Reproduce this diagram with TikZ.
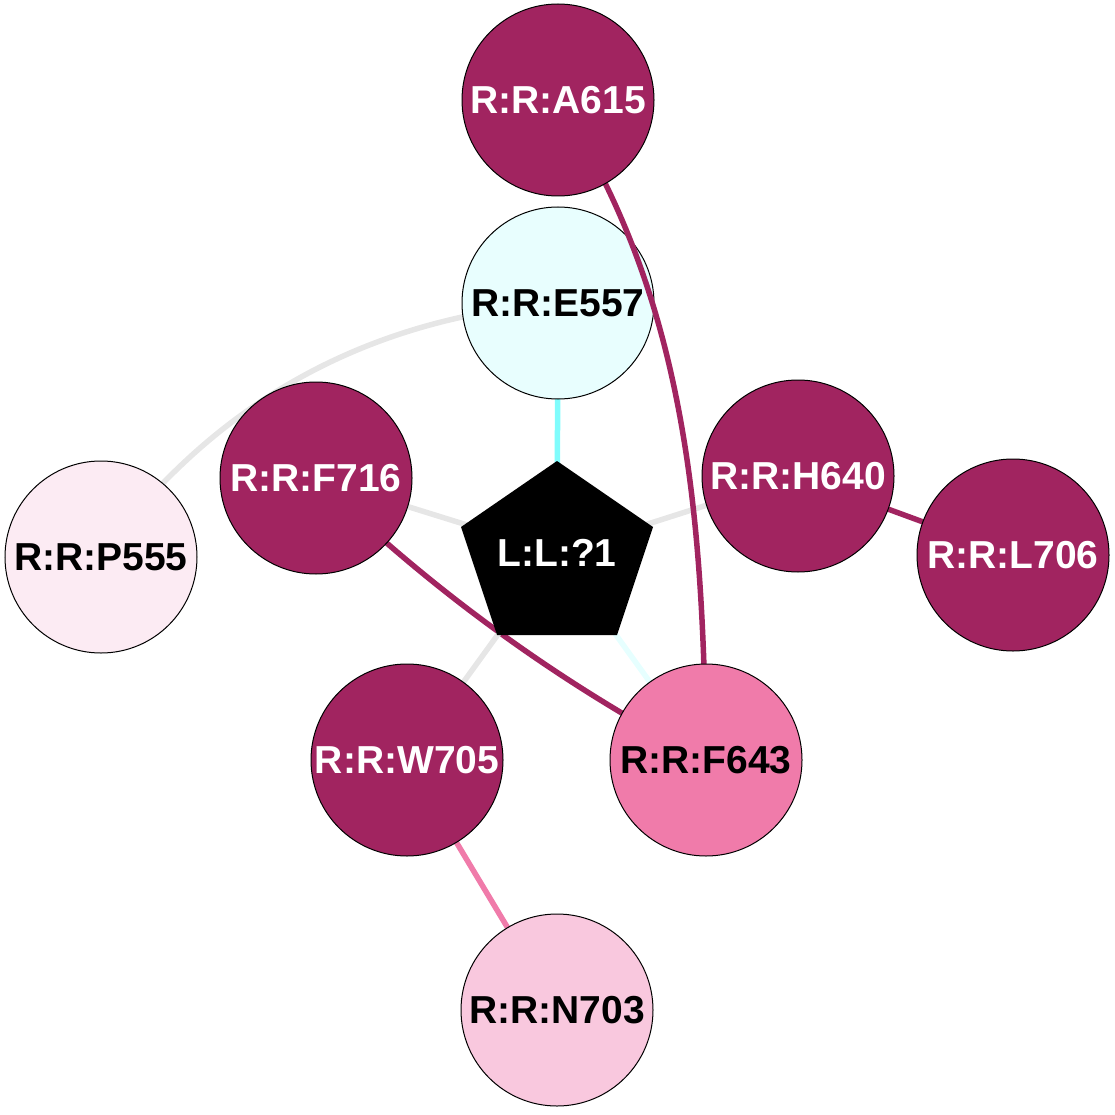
\documentclass[tikz,border=0pt]{standalone}
\usepackage{fontspec}
\setmainfont{Liberation Sans}
\pgfdeclarelayer{bg}
\pgfdeclarelayer{low}
\pgfdeclarelayer{mid}
\pgfsetlayers{bg,low,mid,main}
\definecolor{purp}{HTML}{A12460}
\definecolor{pinkA}{HTML}{F07BAA}
\definecolor{pinkB}{HTML}{F9C8DE}
\definecolor{pinkC}{HTML}{FCEBF3}
\definecolor{cyanA}{HTML}{E8FEFE}
\definecolor{cyanE}{HTML}{80FCFC}
\definecolor{cyanF}{HTML}{E6FFFF}
\definecolor{grayE}{HTML}{E6E6E6}
\tikzset{
  res/.style={circle, draw=black, line width=1pt, minimum size=192pt, inner sep=0pt,
    font=\fontsize{39}{39}\selectfont\bfseries},
  dark/.style={res, fill=purp, text=white},
  lig/.style={inner sep=0pt, text=white, font=\fontsize{39}{39}\selectfont\bfseries},
  edge/.style={line width=5.5pt},
}
\begin{document}
\begin{tikzpicture}[x=1pt,y=-1pt]
\useasboundingbox (0,0) rectangle (1115,1115);
\fill[black] (557,461) -- (653,527) -- (617,635) -- (497,635) -- (461,527) -- cycle;
\node[lig] (L) at (557,553) {L:L:?1};
\node[dark] (A615) at (558,100) {R:R:A615};
\begin{pgfonlayer}{low}
\node[res, fill=cyanA] (E557) at (558,303) {R:R:E557};
\end{pgfonlayer}
\node[dark] (F716) at (316,478) {R:R:F716};
\node[dark] (H640) at (798,476) {R:R:H640};
\node[dark] (L706) at (1013,555) {R:R:L706};
\node[res, fill=pinkC] (P555) at (101,557) {R:R:P555};
\node[dark] (W705) at (407,760) {R:R:W705};
\node[res, fill=pinkA] (F643) at (706,760) {R:R:F643};
\node[res, fill=pinkB] (N703) at (557,1010) {R:R:N703};
\begin{pgfonlayer}{mid}
\draw[edge, purp] (A615.center) .. controls (688,300) and (703,520) .. (F643.center);
\end{pgfonlayer}
\begin{pgfonlayer}{bg}
\draw[edge, grayE] (E557.center) .. controls (367,318) and (214,402) .. (P555.center);
\draw[edge, purp] (F716.center) .. controls (432,591) and (562,685) .. (F643.center);
\draw[edge, cyanE] (E557.center) -- (L.center);
\draw[edge, grayE] (F716.center) -- (L.center);
\draw[edge, grayE] (H640.center) -- (L.center);
\draw[edge, grayE] (W705.center) -- (L.center);
\draw[edge, cyanF] (F643.center) -- (L.center);
\draw[edge, purp] (H640.center) -- (L706.center);
\draw[edge, pinkA] (W705.center) -- (N703.center);
\end{pgfonlayer}
\end{tikzpicture}
\end{document}
